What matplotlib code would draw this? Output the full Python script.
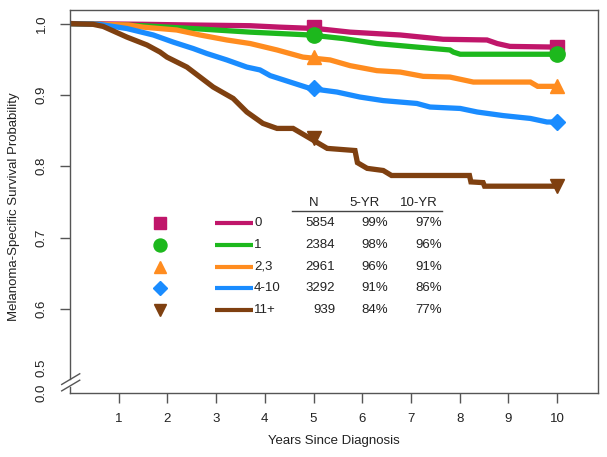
import matplotlib.pyplot as plt

plt.rcParams['font.family'] = ['Liberation Sans', 'DejaVu Sans']

# Kaplan-Meier curves (years, survival)
t_0 = [0, 1.5, 2.5, 3.7, 4.3, 5.07, 5.75, 6.78, 7.66, 8.56, 8.77, 9.03, 10]
s_0 = [1.0, 0.999, 0.998, 0.997, 0.995, 0.993, 0.988, 0.984, 0.978, 0.977, 0.972, 0.968, 0.967]

t_1 = [0, 1.5, 2.53, 3.7, 4.93, 5.61, 6.30, 7.12, 7.80, 7.87, 8.01, 10]
s_1 = [1.0, 0.997, 0.993, 0.988, 0.984, 0.979, 0.972, 0.967, 0.963, 0.960, 0.957, 0.957]

t_23 = [0, 1.2, 1.5, 2.19, 2.67, 3.22, 3.70, 4.25, 4.78, 5.34, 5.75, 6.30, 6.78, 7.25,
        7.80, 8.28, 9.45, 9.60, 10]
s_23 = [1.0, 0.998, 0.995, 0.991, 0.984, 0.977, 0.972, 0.963, 0.953, 0.949, 0.941, 0.934,
        0.932, 0.926, 0.925, 0.918, 0.918, 0.912, 0.912]

t_410 = [0, 0.6, 1.17, 1.71, 2.12, 2.53, 2.81, 3.22, 3.63, 3.90, 4.11, 4.52, 4.93, 5.48,
         5.95, 6.43, 7.12, 7.39, 8.01, 8.36, 8.89, 9.45, 9.79, 10]
s_410 = [1.0, 0.999, 0.993, 0.984, 0.974, 0.965, 0.958, 0.949, 0.939, 0.935, 0.927, 0.918,
         0.909, 0.904, 0.897, 0.892, 0.888, 0.883, 0.881, 0.876, 0.871, 0.867, 0.862, 0.862]

t_11 = [0, 0.47, 0.68, 1.17, 1.58, 1.85, 1.99, 2.40, 2.67, 2.94, 3.35, 3.63, 3.96, 4.25,
        4.58, 4.93, 5.28, 5.85, 5.90, 6.10, 6.43, 6.60, 8.20, 8.23, 8.48, 8.51, 10]
s_11 = [1.0, 0.999, 0.996, 0.981, 0.970, 0.960, 0.953, 0.939, 0.925, 0.911, 0.895, 0.876,
        0.860, 0.853, 0.853, 0.839, 0.825, 0.822, 0.805, 0.797, 0.794, 0.787, 0.787, 0.778,
        0.777, 0.772, 0.772]

groups = ['0', '1', '2,3', '4-10', '11+']
n_pat = ['5854', '2384', '2961', '3292', '939']
yr5 = ['99%', '98%', '96%', '91%', '84%']
yr10 = ['97%', '96%', '91%', '86%', '77%']

times = [t_0, t_1, t_23, t_410, t_11]
surv = [s_0, s_1, s_23, s_410, s_11]
colors = ['#C0166A', '#1DB81D', '#FF8C1F', '#1A8CFF', '#7F4010']
markers = ['s', 'o', '^', 'D', 'v']
msizes = [10, 11, 10, 8, 10]

y_zero = 0.482  # where the "0.0" of the broken axis sits
txt = '#222222'
axc = '#555555'

fig = plt.figure(figsize=(6.07, 4.57), dpi=100)
ax = fig.add_axes([0.1153, 0.140, 0.870, 0.839])

for t, s, c, m, ms in zip(times, surv, colors, markers, msizes):
    ax.plot(t, s, color=c, lw=3.8, solid_capstyle='butt', solid_joinstyle='miter')
    # markers at 5 and 10 years
    v5 = [v for tt, v in zip(t, s) if tt <= 5][-1]
    ax.plot([5, 10], [v5, s[-1]], ls='none', marker=m, ms=ms, color=c, mec=c)

# legend table
row_y = [0.720, 0.690, 0.659, 0.629, 0.598]
fs = 9.5
for i in range(len(groups)):
    y = row_y[i]
    ax.plot([1.85], [y], ls='none', marker=markers[i], ms=msizes[i] * 0.85, color=colors[i])
    ax.plot([2.98, 3.76], [y, y], color=colors[i], lw=3, solid_capstyle='butt')
    ax.text(3.78, y, groups[i], fontsize=fs, va='center', ha='left', color=txt)
    ax.text(5.44, y, n_pat[i], fontsize=fs, va='center', ha='right', color=txt)
    ax.text(6.53, y, yr5[i], fontsize=fs, va='center', ha='right', color=txt)
    ax.text(7.64, y, yr10[i], fontsize=fs, va='center', ha='right', color=txt)
ax.text(5.0, 0.748, 'N', fontsize=fs, va='center', ha='center', color=txt)
ax.text(6.05, 0.748, '5-YR', fontsize=fs, va='center', ha='center', color=txt)
ax.text(7.16, 0.748, '10-YR', fontsize=fs, va='center', ha='center', color=txt)
ax.plot([4.56, 7.64], [0.737, 0.737], color='#444444', lw=1)

ax.set_xlim(0, 10.84)
ax.set_ylim(y_zero, 1.0196)
ax.set_xticks(range(1, 11))
ax.set_yticks([0.6, 0.7, 0.8, 0.9, 1.0])
ax.set_yticklabels(['0.6', '0.7', '0.8', '0.9', '1.0'], rotation=90, va='center')
ax.tick_params(axis='both', direction='out', length=7, width=1, color=axc,
               labelsize=9.5, labelcolor=txt)
ax.tick_params(axis='x', pad=7.5)
ax.tick_params(axis='y', pad=9)

for sp in ax.spines.values():
    sp.set_color(axc)
    sp.set_linewidth(1)

# broken y axis: labels without ticks, split spine and two slashes
ax.spines['left'].set_bounds(0.502, 1.0196)
ax.plot([0, 0], [y_zero, 0.490], color=axc, lw=1, clip_on=False)
for dy in (0.0, 0.009):
    ax.plot([-0.17, 0.20], [0.485 + dy, 0.500 + dy], color=axc, lw=1, clip_on=False)
for yv, lab in ((y_zero, '0.0'), (0.517, '0.5')):
    ax.annotate(lab, xy=(0, yv), xycoords=('axes fraction', 'data'), xytext=(-16, 0),
                textcoords='offset points', rotation=90, va='center', ha='right',
                fontsize=9.5, color=txt)

ax.set_xlabel('Years Since Diagnosis', fontsize=9.5, color=txt, labelpad=7)
ax.set_ylabel('Melanoma-Specific Survival Probability', fontsize=9.5, color=txt)
ax.yaxis.set_label_coords(-0.095, 0.485)

fig.savefig('out.png', dpi=100)
